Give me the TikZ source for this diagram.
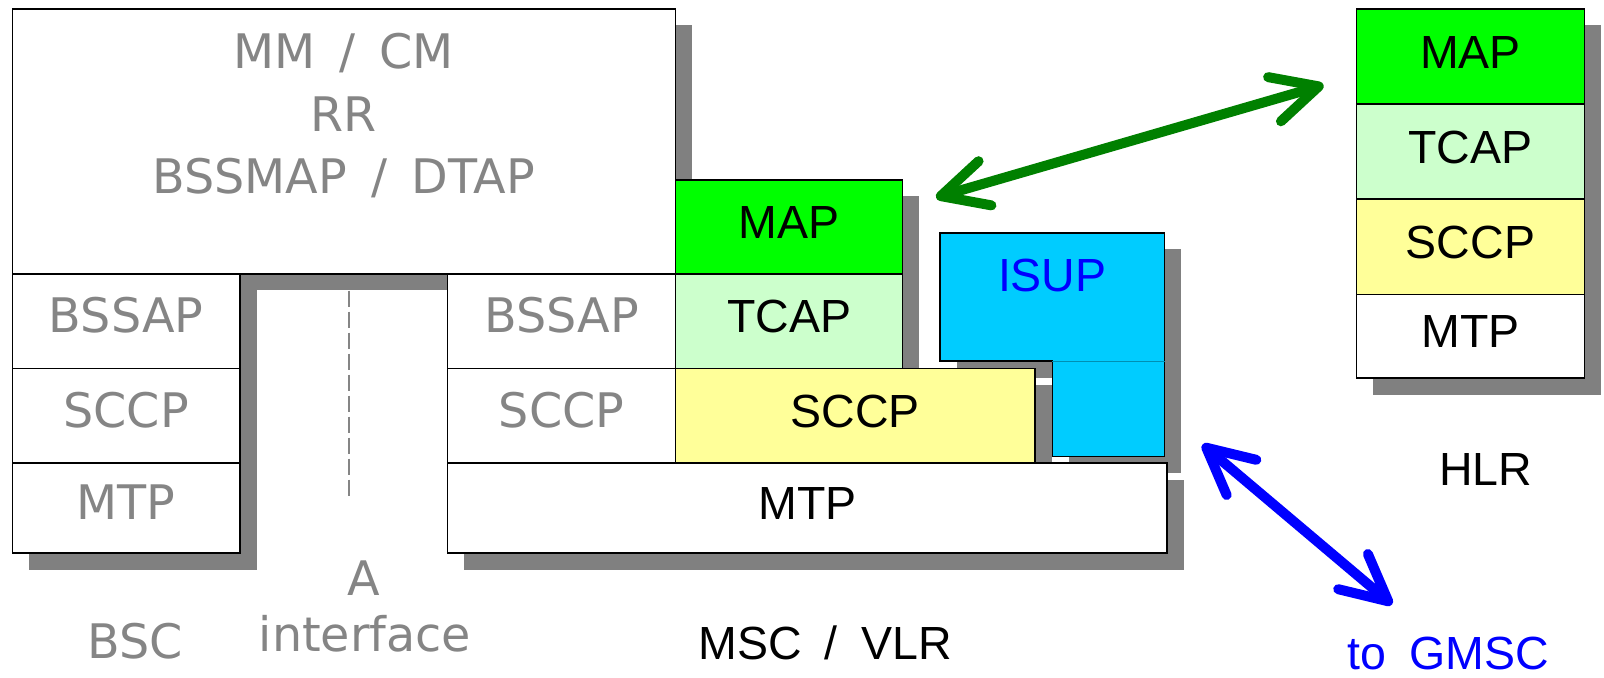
\documentclass[tikz,border=0pt]{standalone}
\usepackage{fontspec}
\setmainfont{Liberation Sans}[WordSpace=1.8]
\newfontfamily\grayfont{DejaVu Sans}[WordSpace=1.6]
\usetikzlibrary{arrows.meta}
\definecolor{shadowgray}{HTML}{808080}
\definecolor{textgray}{HTML}{858585}
\definecolor{mapgreen}{HTML}{00FF00}
\definecolor{tcapgreen}{HTML}{CCFFCC}
\definecolor{sccpyellow}{HTML}{FFFF99}
\definecolor{isupcyan}{HTML}{00CCFF}
\definecolor{arrowgreen}{HTML}{008000}
\definecolor{arrowblue}{HTML}{0000FF}
% \layerbox{name}{style}{x1}{y1}{x2}{y2}{text}: one protocol layer between two corners
\newcommand{\layerbox}[7]{%
  \node[#2, minimum width={(#5-#3)*0.5pt}, minimum height={(#6-#4)*0.5pt}]
    (#1) at ({(#3+#5)/2},{(#4+#6)/2}) {#7};}
\begin{document}
\begin{tikzpicture}[x=0.5pt,y=-0.5pt,
  txt/.style={font=\fontsize{23.25pt}{28pt}\selectfont, inner sep=0pt},
  graytxt/.style={font={\grayfont\fontsize{23.8pt}{28pt}\selectfont},
    text=textgray, inner sep=0pt},
  layer/.style={txt, draw=black, line width=0.75pt, outer sep=0pt,
    text height=16.7pt, text depth=5.1pt},
  graylayer/.style={layer, graytxt, fill=white},
  shadow/.style={fill=shadowgray, draw=none},
  link/.style={line width=5pt,
    {Straight Barb[length=23pt,width=23pt,round]}-{Straight Barb[length=23pt,width=23pt,round]}}
]
\useasboundingbox (0,0) rectangle (1604,678);

% drop shadows, drawn first
\fill[shadow] (28.5,25.5) rectangle (691.5,290.5);      % upper BSC/MSC block
\fill[shadow] (28.8,290.5) rectangle (256.5,569.5);     % BSC stack
\fill[shadow] (464.2,290.5) rectangle (691.5,479.5);    % MSC left column
\fill[shadow] (691.5,196.5) rectangle (919.2,385.2);    % MAP / TCAP
\fill[shadow] (691.5,385.2) rectangle (1051.5,479.5);   % SCCP
\fill[shadow] (956.5,249.5) rectangle (1181,377.5);     % ISUP upper part
\fill[shadow] (1068.8,377.5) rectangle (1181,473.2);    % ISUP lower part
\fill[shadow] (464.2,479.5) rectangle (1183.8,569.5);   % MTP
\fill[shadow] (1373,25) rectangle (1601,394.5);         % HLR stack

% upper layers shared by BSC and MSC
\layerbox{upper}{layer, fill=white}{12.3}{9}{675.5}{274}{}
\node[graytxt, anchor=base] (mmcm) at (343.5,68.3) {MM / CM};
\node[graytxt, anchor=base] (rr) at (343.5,131.3) {RR};
\node[graytxt, anchor=base] (dtap) at (343.5,193.3) {BSSMAP / DTAP};

% BSC stack
\layerbox{bscbssap}{graylayer}{12.3}{274}{240}{368.7}{BSSAP}
\layerbox{bscsccp}{graylayer}{12.3}{368.7}{240}{463}{SCCP}
\layerbox{bscmtp}{graylayer}{12.3}{463}{240}{553}{MTP}

% A interface
\draw[textgray, line width=0.8pt, dash pattern=on 8pt off 2.5pt] (349,290.7) -- (349,497);

% MSC / VLR stack
\layerbox{mscbssap}{graylayer}{447.7}{274}{675.5}{368.7}{BSSAP}
\layerbox{mscsccpa}{graylayer}{447.7}{368.7}{675.5}{463}{SCCP}
\layerbox{mscmap}{layer, fill=mapgreen}{675.5}{180}{902.7}{274}{MAP}
\layerbox{msctcap}{layer, fill=tcapgreen}{675.5}{274}{902.7}{368.7}{TCAP}
\layerbox{mscsccp}{layer, fill=sccpyellow}{675.5}{368.7}{1035}{463}{SCCP}
\filldraw[fill=isupcyan, draw=black, line width=0.75pt]
  (940,233) -- (1164.5,233) -- (1164.5,456.7) -- (1052.3,456.7)
  -- (1052.3,361) -- (940,361) -- cycle;
\draw[isupcyan!70!black, line width=0.4pt] (1052.3,361) -- (1164.5,361);
\node[txt, text=arrowblue, anchor=base] (isup) at (1052.3,291.7) {ISUP};
\layerbox{mscmtp}{layer, fill=white}{447.7}{463}{1167}{553}{MTP}

% HLR stack
\layerbox{hlrmap}{layer, fill=mapgreen}{1356.7}{9}{1584.3}{104}{MAP}
\layerbox{hlrtcap}{layer, fill=tcapgreen}{1356.7}{104}{1584.3}{199}{TCAP}
\layerbox{hlrsccp}{layer, fill=sccpyellow}{1356.7}{199}{1584.3}{294.5}{SCCP}
\layerbox{hlrmtp}{layer, fill=white}{1356.7}{294.5}{1584.3}{378}{MTP}

% captions
\node[graytxt, anchor=base] (bsclabel) at (135.5,658) {BSC};
\node[graytxt, anchor=base] (alabel) at (364,595) {A};
\node[graytxt, anchor=base] (iflabel) at (365,651) {interface};
\node[txt, anchor=base] (msclabel) at (825,659.3) {MSC / VLR};
\node[txt, anchor=base] (hlrlabel) at (1485.8,485.6) {HLR};
\node[txt, text=arrowblue, anchor=base] (gmsclabel) at (1448,669) {to GMSC};

% signalling links
\coordinate (mapend) at (936,197.5);
\coordinate (hlrend) at (1323.5,85);
\coordinate (isupend) at (1202.5,444.5);
\coordinate (gmscend) at (1392,604.5);
\draw[link, arrowgreen] (mapend) -- (hlrend);
\draw[link, arrowblue] (isupend) -- (gmscend);
\end{tikzpicture}
\end{document}
